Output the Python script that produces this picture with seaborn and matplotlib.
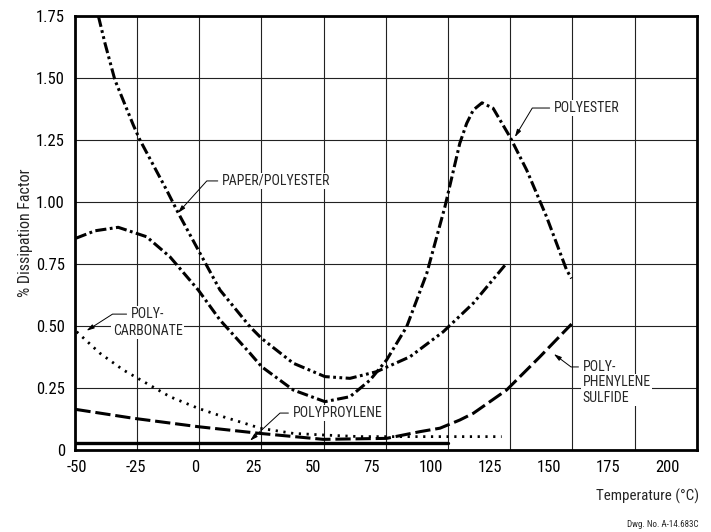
import seaborn as sns
import pandas as pd
import numpy as np
import matplotlib
matplotlib.use('Agg')
import matplotlib.pyplot as plt
from matplotlib import font_manager

sns.set_style('white')
plt.rcParams['lines.scale_dashes'] = False

# the drawing uses a condensed sans; take a narrow face if one is installed
installed = {f.name for f in font_manager.fontManager.ttflist}
narrow = [n for n in ['Liberation Sans Narrow', 'Roboto Condensed', 'Arial Narrow', 'Open Sans Condensed']
          if n in installed]
if narrow:
    plt.rcParams['font.family'] = [narrow[0], 'DejaVu Sans']
    shrink = 1.0
else:
    plt.rcParams['font.family'] = ['Liberation Sans', 'DejaVu Sans']
    shrink = 0.84

# values: temperature (degC) and % dissipation factor
paper_polyester_t = [-40.8, -38.0, -33.8, -26.0, -23.2, -11.9, -7.0, 1.5, 10.7, 23.4, 28.3,
                     41.7, 55.1, 65.7, 77.0, 91.1, 105.2, 117.9, 132.0]
paper_polyester_df = [1.75, 1.64, 1.492, 1.310, 1.250, 1.048, 0.956, 0.806, 0.645, 0.497, 0.450,
                      0.350, 0.296, 0.289, 0.316, 0.376, 0.477, 0.592, 0.753]

polyester_t = [-50.3, -42.2, -32.4, -20.4, -10.5, 1.5, 10.7, 23.4, 28.3, 41.7, 55.1, 65.7,
               74.2, 81.2, 89.7, 98.2, 105.9, 112.2, 115.1, 117.9, 121.6, 126.3, 133.4,
               140.5, 148.9, 157.4, 159.5]
polyester_df = [0.854, 0.884, 0.898, 0.860, 0.779, 0.645, 0.524, 0.390, 0.336, 0.242, 0.195, 0.215,
                0.282, 0.363, 0.497, 0.712, 0.981, 1.237, 1.317, 1.371, 1.400, 1.378, 1.263,
                1.129, 0.941, 0.726, 0.692]

polycarbonate_t = [-50.0, -40.1, -30.3, -20.4, -10.5, 1.5, 12.1, 23.4, 27.6, 41.7, 55.8, 69.9, 84.0, 129.9]
polycarbonate_df = [0.477, 0.390, 0.323, 0.269, 0.215, 0.168, 0.134, 0.101, 0.088, 0.067, 0.060, 0.054, 0.054, 0.054]

pps_t = [-50.5, -26.0, 1.5, 27.6, 54.4, 81.2, 95.3, 103.8, 112.2, 117.9, 132.0, 146.1, 159.5]
pps_df = [0.164, 0.128, 0.094, 0.067, 0.043, 0.047, 0.074, 0.088, 0.121, 0.148, 0.242, 0.376, 0.508]

polypropylene_t = [-50.5, 107.2]
polypropylene_df = [0.027, 0.027]

x_ticks = [-50, -25, 0, 25, 50, 75, 100, 125, 150, 175, 200]
y_ticks = [0, 0.25, 0.5, 0.75, 1.0, 1.25, 1.5, 1.75]
y_tick_labels = ['0', '0.25', '0.50', '0.75', '1.00', '1.25', '1.50', '1.75']

fig = plt.figure(figsize=(7.11, 5.32), dpi=100)
ax = fig.add_axes([0.1048, 0.1541, 0.8755, 0.8158])

curves = [
    (paper_polyester_t, paper_polyester_df, (0, (8, 2.5, 2, 2.5, 2, 2.5)), 2.2),
    (polyester_t, polyester_df, (0, (8, 2.5, 2, 2.5)), 2.2),
    (polycarbonate_t, polycarbonate_df, (0, (1.6, 4)), 2.0),
    (pps_t, pps_df, (0, (11, 3.5)), 2.2),
    (polypropylene_t, polypropylene_df, '-', 2.4),
]
for t, v, ls, lw in curves:
    d = pd.DataFrame({'temp': t, 'df': v})
    sns.lineplot(data=d, x='temp', y='df', sort=False, estimator=None, color='black',
                 linestyle=ls, linewidth=lw, ax=ax)

ax.set_xlim(-50.9, 212.6)
ax.set_ylim(0, 1.75)
ax.set_xticks(x_ticks)
ax.set_xticklabels([str(x) for x in x_ticks])
ax.set_xticks(np.linspace(-50.9, 212.6, 11), minor=True)
ax.set_yticks(y_ticks)
ax.set_yticklabels(y_tick_labels)
ax.tick_params(which='both', length=0, labelsize=12 * shrink, pad=7, colors='black')
ax.grid(False)
ax.xaxis.grid(True, which='minor', color='#222222', lw=0.8)
ax.yaxis.grid(True, which='major', color='#222222', lw=0.8)
ax.set_axisbelow(True)
for s in ax.spines.values():
    s.set_color('black')
    s.set_linewidth(2.0)

ax.set_xlabel('Temperature (°C)', fontsize=10.8 * shrink, loc='right')
ax.xaxis.set_label_coords(1.003, -0.088)
ax.set_ylabel('% Dissipation Factor', fontsize=11.5 * shrink)
ax.yaxis.set_label_coords(-0.066, 0.5)

box = dict(facecolor='white', edgecolor='none', pad=1.0)
arrow = dict(arrowstyle='-|>,head_length=0.45,head_width=0.13', color='black', lw=0.7,
             shrinkA=2, shrinkB=0, relpos=(0, 0.5))
fs = 10 * shrink

ax.annotate('PAPER/POLYESTER', xy=(-7.1, 0.956), xytext=(11.5, 1.085), ha='left', va='center',
            fontsize=fs, bbox=box,
            arrowprops=dict(arrow, connectionstyle='angle,angleA=0,angleB=48,rad=0'))
ax.annotate('POLYESTER', xy=(135.5, 1.262), xytext=(152.0, 1.379), ha='left', va='center',
            fontsize=fs, bbox=box,
            arrowprops=dict(arrow, connectionstyle='angle,angleA=0,angleB=59,rad=0'))
ax.annotate('POLY-', xy=(-45.8, 0.481), xytext=(-20.0, 0.548), ha='center', va='center',
            fontsize=fs, bbox=box,
            arrowprops=dict(arrow, connectionstyle='angle,angleA=0,angleB=32.6,rad=0'))
ax.text(-20.0, 0.48, 'CARBONATE', ha='center', va='center', fontsize=fs, bbox=box)
ax.annotate('POLYPROYLENE', xy=(23.4, 0.0375), xytext=(41.4, 0.149), ha='left', va='center',
            fontsize=fs, bbox=box,
            arrowprops=dict(arrow, connectionstyle='angle,angleA=0,angleB=42.7,rad=0'))
ax.annotate('POLY-', xy=(152.0, 0.387), xytext=(164.2, 0.335), ha='left', va='center',
            fontsize=fs, bbox=box,
            arrowprops=dict(arrow, connectionstyle='angle,angleA=0,angleB=-36.9,rad=0'))
ax.text(164.2, 0.242, 'PHENYLENE\nSULFIDE', ha='left', va='center', fontsize=fs,
        linespacing=1.1, bbox=box)

fig.text(0.983, 0.015, 'Dwg. No. A-14.683C', ha='right', va='center', fontsize=6.5 * shrink)

fig.savefig('out.png', dpi=100)
